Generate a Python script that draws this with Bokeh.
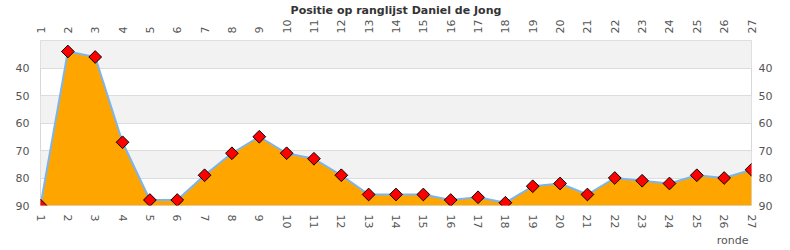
import math
from bokeh.plotting import figure
from bokeh.models import Range1d, LinearAxis, FixedTicker, BoxAnnotation, Title
from bokeh.embed import file_html
from bokeh.resources import INLINE

rondes = list(range(1, 28))
positie = [90, 34, 36, 67, 88, 88, 79, 71, 65, 71, 73, 79, 86, 86, 86,
           88, 87, 89, 83, 82, 86, 80, 81, 82, 79, 80, 77]
y_ticks = [30, 40, 50, 60, 70, 80, 90]
title_text = "Positie op ranglijst Daniel de Jong"
x_label = "ronde"

FONT = "DejaVu Sans"
GRAY = "#555555"

p = figure(width=790, height=250, output_backend="svg", toolbar_location=None,
           x_range=Range1d(1, 27), y_range=Range1d(90, 30),
           x_axis_location="below", y_axis_location="left",
           min_border_left=40, min_border_right=39, min_border_top=40,
           min_border_bottom=45)
p.title.text = title_text
p.title.align = "center"
p.title.text_font = FONT
p.title.text_font_style = "bold"
p.title.text_font_size = "11px"
p.title.text_color = "#333333"
p.title.standoff = 0
p.title.offset = 0

p.outline_line_color = "#d8d8d8"
p.background_fill_color = "white"
p.border_fill_color = "white"

# alternating horizontal bands (every other interval between ticks)
for lo, hi in zip(y_ticks[0::2], y_ticks[1::2]):
    p.add_layout(BoxAnnotation(bottom=lo, top=hi, fill_color="#f2f2f2",
                               fill_alpha=1.0, line_color=None, level="image"))

p.xgrid.visible = False
p.ygrid.ticker = FixedTicker(ticks=y_ticks)
p.ygrid.grid_line_color = "#dcdcdc"

xt = FixedTicker(ticks=rondes)
yt = FixedTicker(ticks=y_ticks)
overrides = {30: ""}

p.add_layout(LinearAxis(), "above")
p.add_layout(LinearAxis(), "right")

for ax in p.xaxis:
    ax.ticker = xt
    ax.major_label_orientation = "vertical"
for ax in p.yaxis:
    ax.ticker = yt
    ax.major_label_overrides = overrides
for ax in p.xaxis + p.yaxis:
    ax.axis_line_color = None
    ax.major_tick_line_color = None
    ax.major_tick_out = 0
    ax.major_tick_in = 0
    ax.minor_tick_line_color = None
    ax.minor_tick_out = 0
    ax.major_label_text_font = FONT
    ax.major_label_text_font_size = "11px"
    ax.major_label_text_color = GRAY
p.below[0].major_label_standoff = 9
p.above[-1].major_label_standoff = 7
p.left[0].major_label_standoff = 11
p.right[0].major_label_standoff = 7

p.varea(x=rondes, y1=positie, y2=90, fill_color="#FFA500")
p.line(x=rondes, y=positie, line_color="#7cb5ec", line_width=2)
p.scatter(x=rondes, y=positie, marker="square", size=9, angle=math.pi / 4,
          fill_color="#FF0000", line_color="black", line_width=1)

p.add_layout(Title(text=x_label, align="right", text_font=FONT,
                   text_font_size="11px", text_font_style="normal",
                   text_color=GRAY, standoff=0, offset=3), "below")

open("out.html", "w").write(file_html(p, INLINE))
